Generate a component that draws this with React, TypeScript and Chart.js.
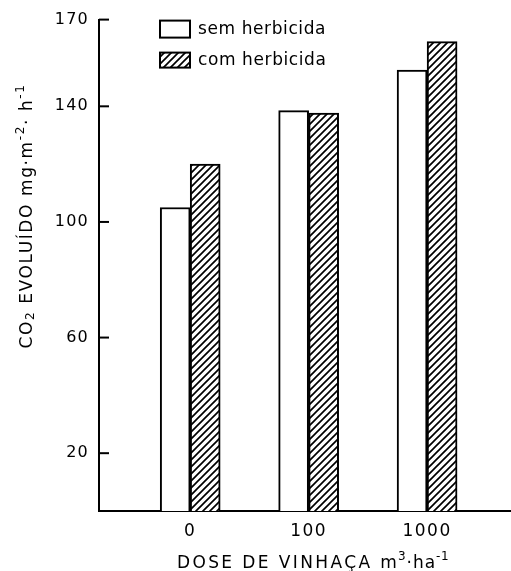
import { useEffect, useRef } from 'react';
import { Chart, registerables } from 'chart.js';

Chart.register(...registerables);

const categories = ['0', '100', '1000'];
const seriesLabels = ['sem herbicida', 'com herbicida'];
const semHerbicida = [105, 138.5, 152.5];
const comHerbicida = [120, 137.7, 162.4];
const yTicks = [20, 60, 100, 140, 170];

const FONT = '"DejaVu Sans", sans-serif';

type Run = { t: string; pos?: 'sup' | 'sub'; sp?: number };

function makeHatch(): CanvasPattern | string {
  const s = 7;
  const c = document.createElement('canvas');
  c.width = s;
  c.height = s;
  const g = c.getContext('2d');
  if (!g) return '#fff';
  g.fillStyle = '#fff';
  g.fillRect(0, 0, s, s);
  g.strokeStyle = '#000';
  g.lineWidth = 1.7;
  g.beginPath();
  g.moveTo(0, s);
  g.lineTo(s, 0);
  g.moveTo(-s / 2, s / 2);
  g.lineTo(s / 2, -s / 2);
  g.moveTo(s / 2, s * 1.5);
  g.lineTo(s * 1.5, s / 2);
  g.stroke();
  return g.createPattern(c, 'repeat') || '#fff';
}

function drawRich(ctx: CanvasRenderingContext2D, runs: Run[], size: number, spacing: number) {
  const fontOf = (r: Run) => `${r.pos ? Math.round(size * 0.72) : size}px ${FONT}`;
  const spOf = (r: Run) => `${r.sp ?? spacing}px`;
  let total = 0;
  const widths = runs.map((r) => {
    ctx.font = fontOf(r);
    (ctx as any).letterSpacing = spOf(r);
    const w = ctx.measureText(r.t).width;
    total += w;
    return w;
  });
  let x = -total / 2;
  ctx.textAlign = 'left';
  ctx.textBaseline = 'alphabetic';
  runs.forEach((r, i) => {
    ctx.font = fontOf(r);
    (ctx as any).letterSpacing = spOf(r);
    let dy = size * 0.36;
    if (r.pos === 'sup') dy -= size * 0.5;
    if (r.pos === 'sub') dy += size * 0.12;
    ctx.fillText(r.t, x, dy);
    x += widths[i];
  });
}

export default function App() {
  const ref = useRef<HTMLCanvasElement | null>(null);

  useEffect(() => {
    document.body.style.margin = '0';
    const canvas = ref.current;
    if (!canvas) return;
    const hatch = makeHatch();

    const decor = {
      id: 'decor',
      beforeDraw(chart: any) {
        chart.ctx.letterSpacing = '1.2px';
      },
      afterDatasetsDraw(chart: any) {
        chart.ctx.letterSpacing = '1.5px';
      },
      afterDraw(chart: any) {
        const { ctx, chartArea, scales } = chart;
        const y = scales.y;
        ctx.save();
        ctx.strokeStyle = '#000';
        ctx.fillStyle = '#000';
        ctx.lineWidth = 2;
        // inward ticks
        y.ticks.forEach((t: any) => {
          const py = y.getPixelForValue(t.value);
          ctx.beginPath();
          ctx.moveTo(chartArea.left, py);
          ctx.lineTo(chartArea.left + 10, py);
          ctx.stroke();
        });
        // legend
        const lx = chartArea.left + 61;
        const boxes = [
          { y: chartArea.top + 1, h: 17, fill: '#fff' as any },
          { y: chartArea.top + 33, h: 15, fill: hatch as any },
        ];
        ctx.font = `17px ${FONT}`;
        boxes.forEach((b, i) => {
          ctx.fillStyle = b.fill;
          ctx.fillRect(lx, b.y, 30, b.h);
          ctx.strokeRect(lx, b.y, 30, b.h);
          ctx.fillStyle = '#000';
          ctx.letterSpacing = '0.6px';
          ctx.textAlign = 'left';
          ctx.textBaseline = 'middle';
          ctx.fillText(seriesLabels[i], lx + 38, b.y + b.h / 2);
        });
        // y title
        ctx.save();
        ctx.translate(26, 216);
        ctx.rotate(-Math.PI / 2);
        drawRich(
          ctx,
          [
            { t: 'CO' },
            { t: '2', pos: 'sub' },
            { t: ' EVOLUÍDO mg·m' },
            { t: '-2', pos: 'sup' },
            { t: '· h' },
            { t: '-1', pos: 'sup' },
          ],
          17,
          1.6
        );
        ctx.restore();
        // x title
        ctx.save();
        ctx.translate(313, 562);
        drawRich(
          ctx,
          [
            { t: 'DOSE DE VINHAÇA ' },
            { t: 'm', sp: 1 },
            { t: '3', pos: 'sup', sp: 1 },
            { t: '·ha', sp: 1 },
            { t: '-1', pos: 'sup', sp: 0.5 },
          ],
          17,
          2.4
        );
        ctx.restore();
        ctx.restore();
      },
    };

    const chart = new Chart(canvas, {
      type: 'bar',
      data: {
        datasets: [
          {
            label: seriesLabels[0],
            data: semHerbicida.map((v, i) => ({ x: i, y: v })),
            backgroundColor: '#fff',
            borderColor: '#000',
            borderWidth: 2,
            barThickness: 30,
          },
          {
            label: seriesLabels[1],
            data: comHerbicida.map((v, i) => ({ x: i, y: v })),
            backgroundColor: hatch as any,
            borderColor: '#000',
            borderWidth: 2,
            barThickness: 30,
          },
        ],
      },
      options: {
        responsive: false,
        animation: false,
        devicePixelRatio: 1,
        layout: { padding: { top: 14, right: 1, left: 0, bottom: 0 } },
        plugins: {
          legend: { display: false },
          tooltip: { enabled: false },
        },
        scales: {
          x: {
            type: 'linear',
            offset: false,
            min: -0.77,
            max: 2.7,
            afterBuildTicks: (s: any) => {
              s.ticks = categories.map((_, i) => ({ value: i }));
            },
            afterFit: (s: any) => {
              s.height = 60;
            },
            ticks: {
              callback: (v: any) => categories[v as number] ?? '',
              font: { size: 17, family: FONT },
              color: '#000',
              padding: 10,
              maxRotation: 0,
              autoSkip: false,
              z: 1,
            },
            grid: { display: false, drawTicks: false },
            border: { display: true, width: 2, color: '#000' },
          },
          y: {
            min: 0,
            max: 170,
            afterBuildTicks: (s: any) => {
              s.ticks = yTicks.map((v) => ({ value: v }));
            },
            afterFit: (s: any) => {
              s.width = 99;
            },
            ticks: {
              font: { size: 16, family: FONT },
              color: '#000',
              padding: 10,
            },
            grid: { display: false, drawTicks: false },
            border: { display: true, width: 2, color: '#000' },
          },
        },
      },
      plugins: [decor],
    });
    return () => chart.destroy();
  }, []);

  return (
    <div style={{ width: 511, height: 571, background: '#fff' }}>
      <canvas ref={ref} width={511} height={571} style={{ display: 'block' }} />
    </div>
  );
}
